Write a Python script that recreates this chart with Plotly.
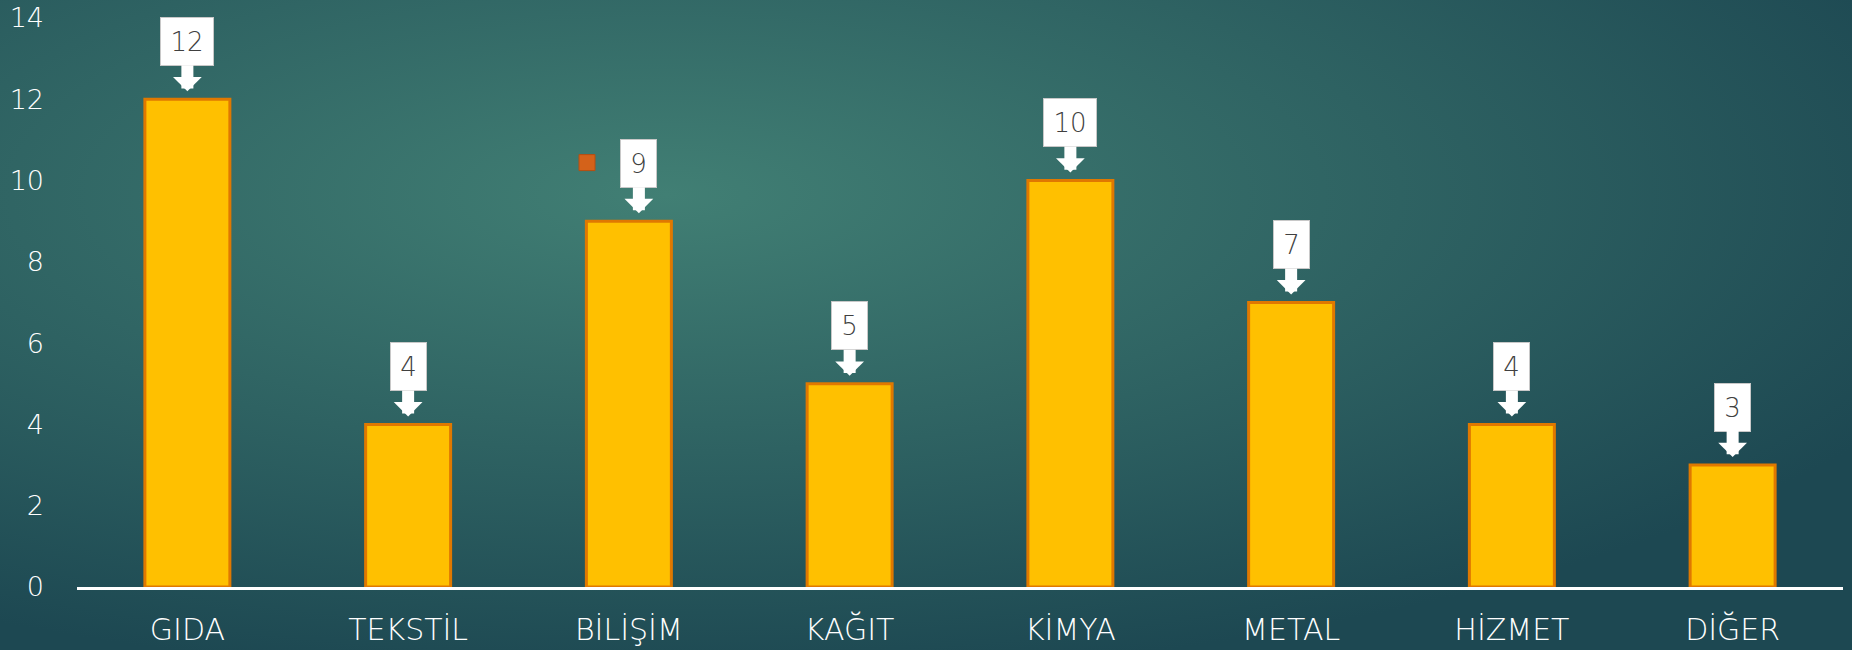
import base64
import plotly.graph_objects as go

categories = ["GIDA", "TEKSTİL", "BİLİŞİM", "KAĞIT", "KİMYA", "METAL", "HİZMET", "DİĞER"]
values = [12, 4, 9, 5, 10, 7, 4, 3]
y_ticks = [0, 2, 4, 6, 8, 10, 12, 14]

W, H = 1852, 650
ML, MR, MT, MB = 77, 9, 18, 63
PW, PH = W - ML - MR, H - MT - MB

FONT = "DejaVu Sans"

svg = f"""<svg xmlns='http://www.w3.org/2000/svg' width='{W}' height='{H}' viewBox='0 0 {W} {H}' preserveAspectRatio='none'>
<defs><radialGradient id='g' cx='0.36' cy='0.3' r='0.75'>
<stop offset='0' stop-color='#417F74'/><stop offset='1' stop-color='#1D4852'/>
</radialGradient></defs><rect width='{W}' height='{H}' fill='url(#g)'/></svg>"""
bg_uri = "data:image/svg+xml;base64," + base64.b64encode(svg.encode()).decode()

fig = go.Figure()
fig.add_trace(go.Bar(
    x=categories, y=values,
    marker=dict(color="#FFC000", line=dict(color="#E07800", width=3)),
    showlegend=False, hoverinfo="x+y",
))
# legend key (empty series name)
fig.add_trace(go.Scatter(
    x=[None], y=[None], mode="markers", name=" ",
    marker=dict(symbol="square", size=18, color="#D4621A", line=dict(color="#B84E10", width=1)),
    showlegend=True,
))

for i, (c, v) in enumerate(zip(categories, values)):
    txt = str(v)
    fig.add_annotation(
        x=c, y=v, xref="x", yref="y",
        text=txt, showarrow=True,
        ax=0, ay=-58, axref="pixel", ayref="pixel",
        xshift=10 if i == 2 else 0,  # label nudged aside by the legend key
        arrowhead=1, arrowwidth=12, arrowsize=0.4, arrowcolor="white",
        standoff=8,
        bgcolor="white", bordercolor="#C8C8C8", borderwidth=1, borderpad=1,
        width=50 if len(txt) > 1 else 33, height=45,
        font=dict(family=FONT, size=26, color="#404040", weight=200),
    )

fig.update_layout(
    width=W, height=H, autosize=False,
    margin=dict(l=ML, r=MR, t=MT, b=MB, pad=0, autoexpand=False),
    paper_bgcolor="#22505A", plot_bgcolor="rgba(0,0,0,0)",
    bargap=0.615,
    font=dict(family=FONT, color="white"),
    images=[dict(
        source=bg_uri, xref="paper", yref="paper",
        x=-ML / PW, y=1 + MT / PH, sizex=W / PW, sizey=H / PH,
        xanchor="left", yanchor="top", sizing="stretch", layer="below",
    )],
    legend=dict(
        x=(587 - 20 - ML) / PW, y=(587 - 163) / PH, xanchor="left", yanchor="middle",
        bgcolor="rgba(0,0,0,0)", font=dict(size=14, color="white"),
    ),
    xaxis=dict(
        type="category", showgrid=False, zeroline=False, automargin=False,
        showline=True, linecolor="white", linewidth=3,
        ticks="", ticklabelstandoff=14, ticklabeloverflow="allow",
        tickfont=dict(family=FONT, size=30, color="white", weight=200),
    ),
    yaxis=dict(
        range=[0, 14], tickvals=y_ticks, showgrid=False, zeroline=False, automargin=False,
        showline=False, ticks="", ticklabelstandoff=32, ticklabeloverflow="allow",
        tickfont=dict(family=FONT, size=27, color="white", weight=200),
    ),
)

fig.write_html(
    "out.html",
    config={"displayModeBar": False},
    post_script="document.body.style.margin='0';document.body.style.overflow='hidden';",
)
